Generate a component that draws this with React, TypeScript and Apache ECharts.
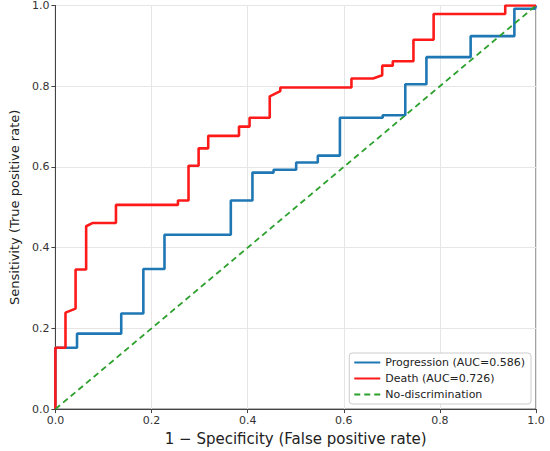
import React, { useEffect, useRef } from "react";
import * as echarts from "echarts";

const progFpr = [0, 0, 0.045, 0.045, 0.137, 0.137, 0.183, 0.183, 0.227, 0.227, 0.365, 0.365, 0.41, 0.41, 0.454, 0.454, 0.501, 0.501, 0.546, 0.546, 0.592, 0.592, 0.681, 0.681, 0.728, 0.728, 0.772, 0.772, 0.864, 0.864, 0.955, 0.955, 0.998, 1.0];
const progTpr = [0, 0.152, 0.152, 0.187, 0.187, 0.237, 0.237, 0.347, 0.347, 0.432, 0.432, 0.517, 0.517, 0.586, 0.586, 0.593, 0.593, 0.611, 0.611, 0.628, 0.628, 0.722, 0.722, 0.728, 0.728, 0.805, 0.805, 0.872, 0.872, 0.924, 0.924, 0.992, 0.992, 1.0];

const deathFpr = [0, 0, 0.021, 0.021, 0.042, 0.042, 0.064, 0.064, 0.077, 0.126, 0.126, 0.255, 0.255, 0.277, 0.277, 0.298, 0.298, 0.318, 0.318, 0.382, 0.382, 0.404, 0.404, 0.446, 0.446, 0.468, 0.468, 0.616, 0.616, 0.661, 0.68, 0.68, 0.702, 0.702, 0.745, 0.745, 0.787, 0.787, 0.936, 0.936, 1.0];
const deathTpr = [0, 0.152, 0.152, 0.239, 0.249, 0.346, 0.346, 0.453, 0.461, 0.461, 0.506, 0.506, 0.517, 0.517, 0.603, 0.603, 0.646, 0.646, 0.677, 0.677, 0.7, 0.7, 0.722, 0.722, 0.775, 0.788, 0.797, 0.797, 0.819, 0.819, 0.827, 0.851, 0.851, 0.862, 0.862, 0.915, 0.915, 0.979, 0.979, 1.0, 1.0];

const diagX = [0, 1];
const diagY = [0, 1];

const seriesNames = ["Progression (AUC=0.586)", "Death (AUC=0.726)", "No-discrimination"];
const tickValues = [0, 0.2, 0.4, 0.6, 0.8, 1.0];

const zip = (xs: number[], ys: number[]) => xs.map((x, i) => [x, ys[i]]);

export default function App() {
  const ref = useRef<HTMLDivElement>(null);
  useEffect(() => {
    if (!ref.current) return;
    const chart = echarts.init(ref.current, undefined, { renderer: "svg" });
    const font = "DejaVu Sans";
    const axisCommon = {
      type: "value" as const,
      min: 0,
      max: 1,
      interval: 0.2,
      axisLine: { show: true, lineStyle: { color: "#444", width: 1 } },
      axisTick: { show: true, inside: false, length: 4, lineStyle: { color: "#444" } },
      axisLabel: {
        color: "#333",
        fontSize: 11,
        fontFamily: font,
        formatter: (v: number) => (tickValues.some((t) => Math.abs(t - v) < 1e-9) ? v.toFixed(1) : ""),
      },
      splitLine: { show: true, lineStyle: { color: "#e6e6e6", width: 1 } },
      nameLocation: "middle" as const,
      nameTextStyle: { color: "#222", fontFamily: font },
    };
    chart.setOption({
      animation: false,
      backgroundColor: "#ffffff",
      grid: {
        left: 51.5,
        right: 14,
        top: 5,
        bottom: 41,
        show: true,
        borderColor: "#444",
        borderWidth: 1,
        containLabel: false,
      },
      xAxis: {
        ...axisCommon,
        name: "1 \u2212 Specificity (False positive rate)",
        nameGap: 21,
        nameTextStyle: { color: "#222", fontFamily: font, fontSize: 15 },
        axisLabel: { ...axisCommon.axisLabel, margin: 6 },
      },
      yAxis: {
        ...axisCommon,
        name: "Sensitivity (True positive rate)",
        nameGap: 29,
        nameTextStyle: { color: "#222", fontFamily: font, fontSize: 13 },
        axisLabel: { ...axisCommon.axisLabel, margin: 6 },
      },
      legend: {
        right: 19,
        bottom: 47,
        orient: "vertical",
        backgroundColor: "#fff",
        borderColor: "#cccccc",
        borderWidth: 1,
        borderRadius: 3,
        padding: [4, 6, 4, 4],
        itemGap: 5,
        itemWidth: 26,
        itemHeight: 11,
        itemStyle: { opacity: 0 },
        textStyle: { fontFamily: font, fontSize: 11, color: "#222" },
        data: seriesNames,
      },
      series: [
        {
          name: seriesNames[0],
          type: "line",
          data: zip(progFpr, progTpr),
          symbol: "none",
          lineStyle: { color: "#1f77b4", width: 2.6 },
          itemStyle: { color: "#1f77b4" },
          z: 2,
        },
        {
          name: seriesNames[1],
          type: "line",
          data: zip(deathFpr, deathTpr),
          symbol: "none",
          lineStyle: { color: "#ff1a1a", width: 2.6 },
          itemStyle: { color: "#ff1a1a" },
          z: 3,
        },
        {
          name: seriesNames[2],
          type: "line",
          data: zip(diagX, diagY),
          symbol: "none",
          lineStyle: { color: "#2ca02c", width: 1.8, type: [6, 4] },
          itemStyle: { color: "#2ca02c" },
          z: 4,
        },
      ],
    });
    return () => chart.dispose();
  }, []);
  return (
    <div
      ref={ref}
      style={{ position: "fixed", left: 0, top: 0, width: 550, height: 451 }}
    />
  );
}
